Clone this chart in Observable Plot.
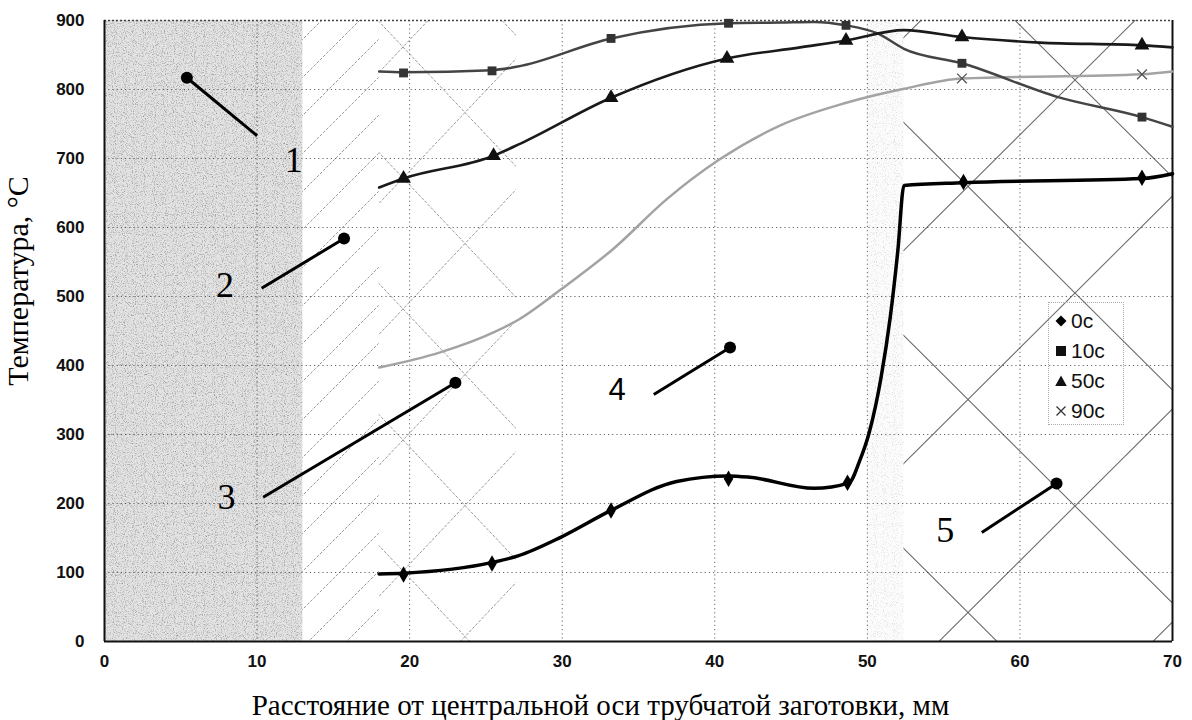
<!DOCTYPE html>
<html><head><meta charset="utf-8">
<script src="https://cdn.jsdelivr.net/npm/d3@7"></script>
<script src="https://cdn.jsdelivr.net/npm/@observablehq/plot@0.6"></script>
<style>
body{margin:0;background:#fff}
#wrap{position:relative;width:1192px;height:720px;overflow:hidden}
.legend{position:absolute;left:1048px;top:302px;width:76px;height:123px;border:1px dotted #aaa;box-sizing:border-box;font-family:"Liberation Sans",Arial,sans-serif;font-size:21px;color:#111}
.legend .row{position:absolute;left:6px;height:26px;display:flex;align-items:center}
.legend .row svg{margin-right:4px}
</style>
</head><body><div id="wrap"></div>
<script>
// ---- data (mm, °C) ----
const xTicks = [0, 10, 20, 30, 40, 50, 60, 70];
const yTicks = [0, 100, 200, 300, 400, 500, 600, 700, 800, 900];
const seriesNames = ["0с", "10с", "50с", "90с"];

// zones of the billet cross-section
const zones = [
  {x1: 0, x2: 13, pattern: "url(#grain)"},
  {x1: 13, x2: 18, pattern: "url(#hatch)"},
  {x1: 18, x2: 27, pattern: "url(#diaS)"},
  {x1: 50, x2: 52.4, pattern: "url(#grainLight)"},
  {x1: 52.4, x2: 70, pattern: "url(#diaL)"}
];

// curve traces
const trace0 = [[18,98],[19.6,99],[25.5,115],[27.1,124],[29.9,151],[33.2,190],[37.5,232],[40.9,240],[42.3,238],[46.5,222],[48.8,230],[49.5,262],[50.1,301],[50.9,383],[51.5,470],[52.0,567],[52.4,661],[56.3,665],[68,671],[70,678]];
const trace10 = [[18,826],[19.6,825],[25.4,828],[27,833],[33.2,874],[40.9,896],[44.3,897],[46.5,898],[48.6,893],[50.7,881],[52.4,859],[56.2,838],[62.5,789],[68,760],[70,746]];
const trace50 = [[18,658],[19.6,671],[25.5,704],[27.3,722],[33.2,788],[40.8,845],[45.6,861],[48.6,871],[52.4,886],[56.2,876],[61.3,868],[68,864],[70,861]];
const trace90 = [[18,397],[22,419],[25.5,448],[27.1,466],[29.9,510],[33.4,570],[36.8,640],[40.2,697],[44.3,748],[48.5,780],[52.4,801],[56.2,816],[68,822],[70,826]];

// measured points (markers)
const points0 = [[19.6,97],[25.4,113],[33.2,190],[40.9,236],[48.7,230],[56.3,666],[68,672]];
const points10 = [[19.6,824],[25.4,827],[33.2,874],[40.9,896],[48.6,893],[56.2,838],[68,760]];
const points50 = [[19.6,671],[25.5,704],[33.2,788],[40.8,845],[48.6,871],[56.2,876],[68,864]];
const points90 = [[56.2,816],[68,822]];

// zone callouts
const callouts = [
  {label: "1", dotX: 5.4, dotT: 817, endX: 10.0, endT: 733, textX: 12.4, textT: 697, serif: true},
  {label: "2", dotX: 15.7, dotT: 584, endX: 10.3, endT: 512, textX: 7.9, textT: 516, serif: true},
  {label: "3", dotX: 23.0, dotT: 375, endX: 10.4, endT: 209, textX: 8.0, textT: 209, serif: true},
  {label: "4", dotX: 41.0, dotT: 426, endX: 36.0, endT: 358, textX: 33.6, textT: 364, serif: false},
  {label: "5", dotX: 62.4, dotT: 229, endX: 57.5, endT: 158, textX: 55.1, textT: 161, serif: true}
];

const xTitle = "Расстояние от центральной оси трубчатой заготовки, мм";
const yTitle = "Температура, °С";

// ---- build ----
const toObj = a => a.map(([x, t]) => ({x, t}));
const serif = "Liberation Serif, Times New Roman, serif";
const sans = "Liberation Sans, Arial, sans-serif";

const chart = Plot.plot({
  width: 1192, height: 720,
  marginLeft: 104, marginRight: 20, marginTop: 20, marginBottom: 79,
  style: {fontFamily: sans, fontSize: "17px", fontWeight: "bold", background: "white", color: "#111", overflow: "visible"},
  color: {type: "identity"},
  x: {domain: [0, 70], ticks: xTicks, tickSize: 0, tickPadding: 13, label: null},
  y: {domain: [0, 900], ticks: yTicks, tickSize: 0, tickPadding: 20, label: null},
  marks: [
    Plot.rect(zones, {x1: "x1", x2: "x2", y1: () => 0, y2: () => 900, fill: "pattern"}),
    Plot.gridX(xTicks.slice(1, -1), {stroke: "#333", strokeOpacity: 0.75, strokeDasharray: "1.2,3"}),
    Plot.gridY(yTicks.slice(1, -1), {stroke: "#333", strokeOpacity: 0.75, strokeDasharray: "1.2,3"}),
    Plot.ruleY([900], {stroke: "#444", strokeWidth: 1.5, strokeDasharray: "2,2"}),
    Plot.ruleY([0], {stroke: "#111", strokeWidth: 2}),
    Plot.ruleX([0, 70], {stroke: "#111", strokeWidth: 2}),
    // curves
    Plot.line(toObj(trace90), {x: "x", y: "t", stroke: "#a3a3a3", strokeWidth: 2.5, curve: "monotone-x"}),
    Plot.line(toObj(trace10), {x: "x", y: "t", stroke: "#444", strokeWidth: 2.5, curve: "monotone-x"}),
    Plot.line(toObj(trace50), {x: "x", y: "t", stroke: "#1a1a1a", strokeWidth: 2.6, curve: "monotone-x"}),
    Plot.line(toObj(trace0), {x: "x", y: "t", stroke: "#000", strokeWidth: 3.5, curve: "monotone-x"}),
    // markers
    Plot.dot(toObj(points0), {x: "x", y: "t", symbol: "diamond", r: 5, fill: "#000"}),
    Plot.dot(toObj(points10), {x: "x", y: "t", symbol: "square", r: 5, fill: "#333"}),
    Plot.dot(toObj(points50), {x: "x", y: "t", symbol: "triangle", r: 5.5, fill: "#111"}),
    Plot.dot(toObj(points90), {x: "x", y: "t", symbol: "times", r: 4.5, stroke: "#555", strokeWidth: 1.3}),
    // callouts
    Plot.link(callouts, {x1: "dotX", y1: "dotT", x2: "endX", y2: "endT", stroke: "#000", strokeWidth: 3}),
    Plot.dot(callouts, {x: "dotX", y: "dotT", r: 6, fill: "#000"}),
    Plot.text(callouts.filter(d => d.serif), {x: "textX", y: "textT", text: "label", fontFamily: serif, fontSize: 36, fontWeight: "normal", fill: "#000"}),
    Plot.text(callouts.filter(d => !d.serif), {x: "textX", y: "textT", text: "label", fontFamily: sans, fontSize: 31, fontWeight: "normal", fill: "#000"}),
    // axis titles
    Plot.text([xTitle], {frameAnchor: "bottom", lineAnchor: "middle", textAnchor: "middle", dy: 64, dx: -38, fontFamily: serif, fontSize: 29, fontWeight: "normal", fill: "#000"}),
    Plot.text([yTitle], {frameAnchor: "left", lineAnchor: "middle", textAnchor: "middle", rotate: -90, dx: -86, dy: -50, fontFamily: serif, fontSize: 30, fontWeight: "normal", fill: "#000"})
  ]
});

// patterns for the zones
const defs = document.createElementNS("http://www.w3.org/2000/svg", "defs");
defs.innerHTML = `
<filter id="noiseF" x="0" y="0" width="1" height="1">
  <feTurbulence type="fractalNoise" baseFrequency="0.9" numOctaves="2" seed="4" result="t"/>
  <feColorMatrix in="t" type="matrix" values="0 0 0 0 0  0 0 0 0 0  0 0 0 0 0  0.9 0 0 0 -0.44"/>
</filter>
<filter id="noiseL" x="0" y="0" width="1" height="1">
  <feTurbulence type="fractalNoise" baseFrequency="0.9" numOctaves="2" seed="9" result="t"/>
  <feColorMatrix in="t" type="matrix" values="0 0 0 0 0  0 0 0 0 0  0 0 0 0 0  0.5 0 0 0 -0.27"/>
</filter>
<pattern id="grain" patternUnits="userSpaceOnUse" x="0" y="0" width="1192" height="720">
  <rect width="1192" height="720" fill="#e3e3e3"/>
  <rect width="1192" height="720" fill="#000" filter="url(#noiseF)"/>
</pattern>
<pattern id="grainLight" patternUnits="userSpaceOnUse" x="0" y="0" width="1192" height="720">
  <rect width="1192" height="720" fill="#fcfcfc"/>
  <rect width="1192" height="720" fill="#000" filter="url(#noiseL)"/>
</pattern>
<pattern id="hatch" patternUnits="userSpaceOnUse" x="0" y="0" width="38" height="38">
  <path d="M0,38L38,0M-10,10L10,-10M28,48L48,28" stroke="#9a9a9a" stroke-width="1" stroke-dasharray="3,1.5"/>
</pattern>
<pattern id="diaS" patternUnits="userSpaceOnUse" x="403" y="47" width="124" height="131">
  <path d="M0,0L124,131M124,0L0,131" stroke="#999" stroke-width="1" stroke-dasharray="3,1.5"/>
</pattern>
<pattern id="diaL" patternUnits="userSpaceOnUse" x="1075" y="80" width="214" height="213">
  <path d="M0,0L214,213M214,0L0,213" stroke="#6a6a6a" stroke-width="1.1"/>
</pattern>`;
chart.insertBefore(defs, chart.firstChild);

const wrap = document.getElementById("wrap");
wrap.appendChild(chart);

// legend
const symbols = [
  '<polygon points="6,0.5 11.5,6 6,11.5 0.5,6" fill="#000"/>',
  '<rect x="1" y="1" width="10" height="10" fill="#111"/>',
  '<polygon points="6,0.5 11.8,11 0.2,11" fill="#111"/>',
  '<path d="M1.5,1.5L10.5,10.5M10.5,1.5L1.5,10.5" stroke="#333" stroke-width="1.3"/>'
];
const legend = document.createElement("div");
legend.className = "legend";
legend.innerHTML = seriesNames.map((s, i) =>
  `<div class="row" style="top:${5 + i * 30}px"><svg width="12" height="12" viewBox="0 0 12 12">${symbols[i]}</svg><span>${s}</span></div>`
).join("");
wrap.appendChild(legend);
</script></body></html>
